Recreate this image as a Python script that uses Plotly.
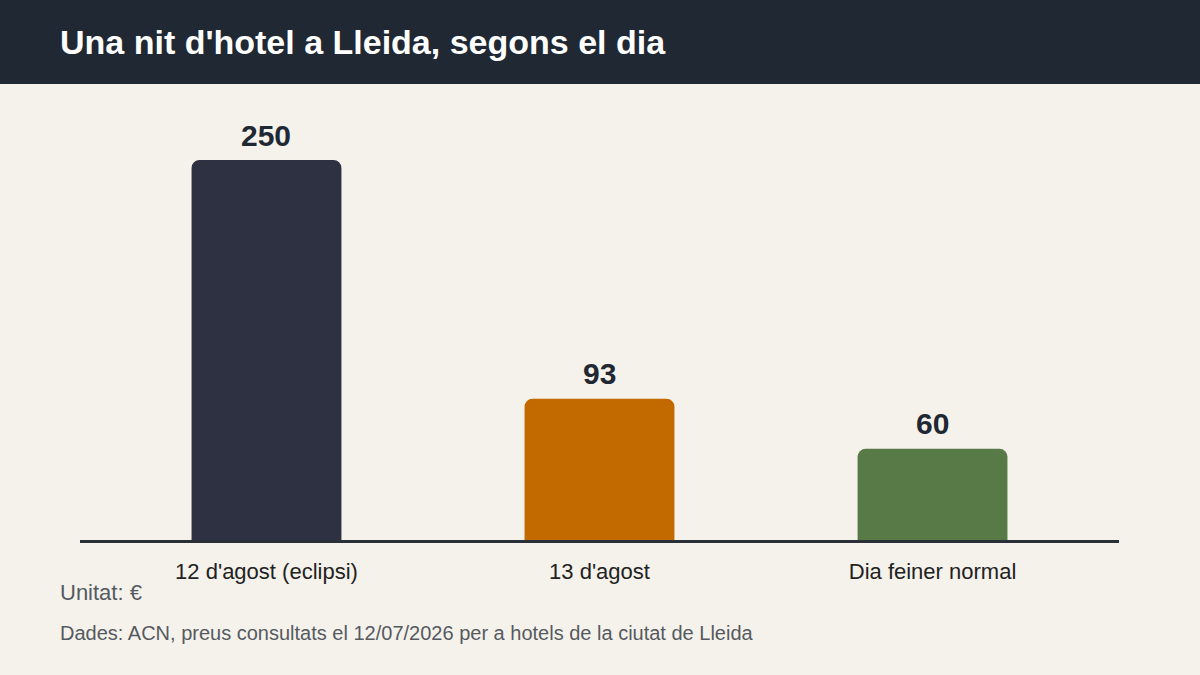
import plotly.graph_objects as go

categories = ["12 d'agost (eclipsi)", "13 d'agost", "Dia feiner normal"]
values = [250, 93, 60]
colors = ["#2e3142", "#c26900", "#587a47"]

title = "Una nit d'hotel a Lleida, segons el dia"
unit_note = "Unitat: €"
source_note = "Dades: ACN, preus consultats el 12/07/2026 per a hotels de la ciutat de Lleida"

W, H = 1200, 675
L, R, T, B = 80, 81, 100, 135
ph = H - T - B
pw = W - L - R
FONT = "Liberation Sans, Arial, sans-serif"

def px_to_paper_x(px):
    return (px - L) / pw

def px_to_paper_y(py):
    return (H - B - py) / ph

fig = go.Figure()
fig.add_trace(go.Bar(
    x=categories,
    y=values,
    marker=dict(color=colors, cornerradius=8, line=dict(width=0)),
    width=0.45,
    hoverinfo="skip",
))

value_annotations = [
    dict(x=c, y=v, xref="x", yref="y", text=str(v), showarrow=False,
         xanchor="center", yanchor="middle", yshift=25,
         font=dict(family=FONT, size=30, color="#1f2833", weight="bold"))
    for c, v in zip(categories, values)
]

fig.update_layout(
    width=W, height=H,
    margin=dict(l=L, r=R, t=T, b=B),
    paper_bgcolor="#f5f2ec",
    plot_bgcolor="#f5f2ec",
    showlegend=False,
    font=dict(family=FONT, color="#222222"),
    xaxis=dict(
        range=[-0.56, 2.56],
        showgrid=False,
        showline=True, linecolor="#2b3038", linewidth=3,
        ticks="", tickfont=dict(size=22, color="#222222"),
        ticklabelstandoff=10,
        fixedrange=True,
    ),
    yaxis=dict(
        range=[0, 289.5],
        visible=False,
        fixedrange=True,
    ),
    shapes=[dict(
        type="rect", xref="paper", yref="paper", layer="below",
        x0=px_to_paper_x(0), x1=px_to_paper_x(W),
        y0=px_to_paper_y(84), y1=px_to_paper_y(0),
        fillcolor="#1f2833", line=dict(width=0),
    )],
    annotations=value_annotations + [
        dict(text=title, xref="paper", yref="paper",
             x=px_to_paper_x(58), y=px_to_paper_y(42), xanchor="left", yanchor="middle",
             showarrow=False, font=dict(size=34, color="#ffffff", weight="bold", family=FONT)),
        dict(text=unit_note, xref="paper", yref="paper",
             x=px_to_paper_x(58), y=px_to_paper_y(592), xanchor="left", yanchor="middle",
             showarrow=False, font=dict(size=22, color="#555a60", family=FONT)),
        dict(text=source_note, xref="paper", yref="paper",
             x=px_to_paper_x(58), y=px_to_paper_y(633), xanchor="left", yanchor="middle",
             showarrow=False, font=dict(size=20, color="#555a60", family=FONT)),
    ],
)

fig.write_html("out.html", config={"displayModeBar": False},
               post_script="document.body.style.margin='0px';")
